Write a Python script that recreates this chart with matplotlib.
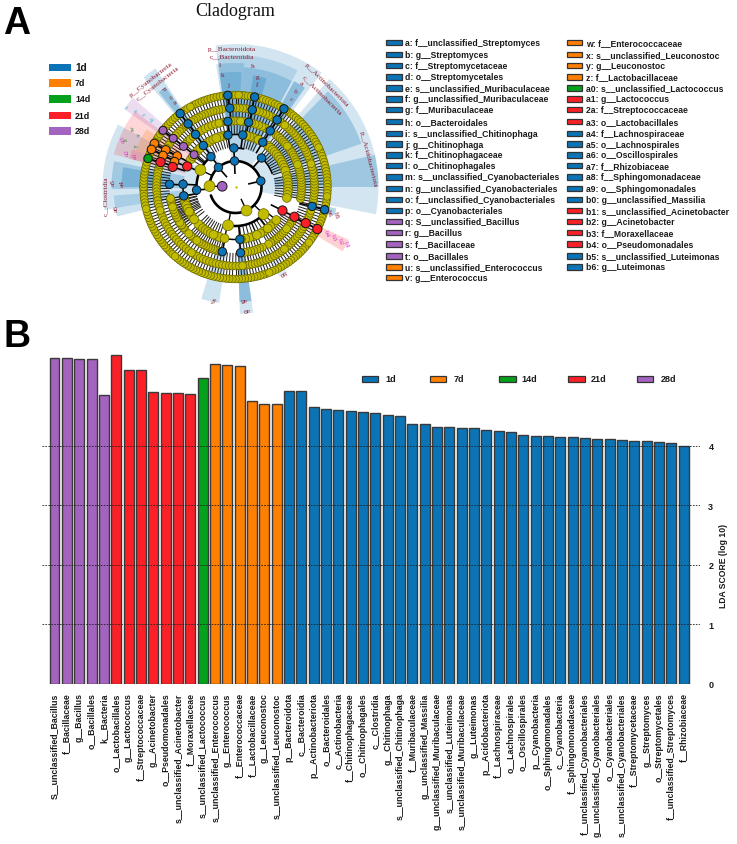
import numpy as np
import matplotlib
matplotlib.use("Agg")
import matplotlib.pyplot as plt
from matplotlib.patches import Rectangle

W, H = 737, 845
plt.rcParams['font.family'] = ['Liberation Sans', 'DejaVu Sans']

GROUPS = ['1d', '7d', '14d', '21d', '28d']
COL = {'1d': '#0a74b6', '7d': '#ff7f00', '14d': '#04a11c', '21d': '#fb2027', '28d': '#a463bf'}
OLIVE = '#c2bc00'

# ---------- panel B data ----------
labels_28d = ['S__unclassified_Bacillus', 'f__Bacillaceae', 'g__Bacillus', 'o__Bacillales', 'k__Bacteria']
values_28d = [5.465, 5.465, 5.45, 5.45, 4.845]
labels_21d = ['o__Lactobacillales', 'g__Lactococcus', 'f__Streptococcaceae', 'g__Acinetobacter',
              'o__Pseudomonadales', 's__unclassified_Acinetobacter', 'f__Moraxellaceae']
values_21d = [5.52, 5.265, 5.265, 4.905, 4.89, 4.88, 4.87]
labels_14d = ['s__unclassified_Lactococcus']
values_14d = [5.13]
labels_7d = ['s__unclassified_Enterococcus', 'g__Enterococcus', 'f__Enterococcaceae',
             'f__Lactobacillaceae', 'g__Leuconostoc', 's__unclassified_Leuconostoc']
values_7d = [5.36, 5.35, 5.34, 4.74, 4.70, 4.69]
labels_1d = ['p__Bacteroidota', 'c__Bacteroidia', 'p__Actinobacteriota', 'o__Bacteroidales', 'c__Actinobacteria',
             'f__Chitinophagaceae', 'o__Chitinophagales', 'c__Clostridia', 'g__Chitinophaga',
             's__unclassified_Chitinophaga', 'f__Muribaculaceae', 'g__unclassified_Massilia',
             'g__unclassified_Muribaculaceae', 's__unclassified_Luteimonas', 's__unclassified_Muribaculaceae',
             'g__Luteimonas', 'p__Acidobacteriota', 'f__Lachnospiraceae', 'o__Lachnospirales', 'o__Oscillospirales',
             'p__Cyanobacteria', 'o__Sphingomonadales', 'c__Cyanobacteria', 'f__Sphingomonadaceae',
             'f__unclassified_Cyanobacteriales', 'g__unclassified_Cyanobacteriales', 'o__Cyanobacteriales',
             's__unclassified_Cyanobacteriales', 'f__Streptomycetaceae', 'g__Streptomyces', 'o__Streptomycetales',
             'f__unclassified_Streptomyces', 'f__Rhizobiaceae']
values_1d = [4.92, 4.91, 4.65, 4.61, 4.59, 4.575, 4.565, 4.55, 4.52, 4.50, 4.37, 4.36, 4.31, 4.31, 4.30, 4.29,
             4.26, 4.24, 4.22, 4.185, 4.16, 4.155, 4.145, 4.14, 4.12, 4.115, 4.105, 4.09, 4.08, 4.07, 4.06, 4.05, 4.00]
y_ticks = [0, 1, 2, 3, 4]

# ---------- panel A legend data ----------
legend_col1 = [('a: f__unclassified_Streptomyces', '1d'), ('b: g__Streptomyces', '1d'), ('c: f__Streptomycetaceae', '1d'),
               ('d: o__Streptomycetales', '1d'), ('e: s__unclassified_Muribaculaceae', '1d'),
               ('f: g__unclassified_Muribaculaceae', '1d'), ('g: f__Muribaculaceae', '1d'), ('h: o__Bacteroidales', '1d'),
               ('i: s__unclassified_Chitinophaga', '1d'), ('j: g__Chitinophaga', '1d'), ('k: f__Chitinophagaceae', '1d'),
               ('l: o__Chitinophagales', '1d'), ('m: s__unclassified_Cyanobacteriales', '1d'),
               ('n: g__unclassified_Cyanobacteriales', '1d'), ('o: f__unclassified_Cyanobacteriales', '1d'),
               ('p: o__Cyanobacteriales', '1d'), ('q: S__unclassified_Bacillus', '28d'), ('r: g__Bacillus', '28d'),
               ('s: f__Bacillaceae', '28d'), ('t: o__Bacillales', '28d'), ('u: s__unclassified_Enterococcus', '7d'),
               ('v: g__Enterococcus', '7d')]
legend_col2 = [('w: f__Enterococcaceae', '7d'), ('x: s__unclassified_Leuconostoc', '7d'), ('y: g__Leuconostoc', '7d'),
               ('z: f__Lactobacillaceae', '7d'), ('a0: s__unclassified_Lactococcus', '14d'), ('a1: g__Lactococcus', '21d'),
               ('2a: f__Streptococcaceae', '21d'), ('a3: o__Lactobacillales', '21d'), ('a4: f__Lachnospiraceae', '1d'),
               ('a5: o__Lachnospirales', '1d'), ('a6: o__Oscillospirales', '1d'), ('a7: f__Rhizobiaceae', '1d'),
               ('a8: f__Sphingomonadaceae', '1d'), ('a9: o__Sphingomonadales', '1d'), ('b0: g__unclassified_Massilia', '1d'),
               ('b1: s__unclassified_Acinetobacter', '21d'), ('b2: g__Acinetobacter', '21d'), ('b3: f__Moraxellaceae', '21d'),
               ('b4: o__Pseudomonadales', '21d'), ('b5: s__unclassified_Luteimonas', '1d'), ('b6: g__Luteimonas', '1d')]
legend_rows = [41, 77, 110, 144, 177, 210, 241, 278, 314, 345, 378, 410, 444, 478, 512, 545, 578, 610, 645, 681, 714, 746]

# ---------- cladogram data ----------
# ring radii (px of the picture), one per taxonomic level
ring_r = {1: 13.3, 2: 26, 3: 39, 4: 52.5, 5: 66, 6: 79, 7: 92}
# biomarker nodes: (angle deg, ring, group)
clade_nodes = [
    (94.8, 7, '1d'), (94.1, 6, '1d'), (96.6, 5, '1d'), (98.3, 4, '1d'), (92.4, 3, '1d'), (92.2, 2, '1d'),
    (78, 7, '1d'), (77.8, 6, '1d'), (78.5, 5, '1d'), (82, 4, '1d'),
    (58.2, 7, '1d'), (58.2, 6, '1d'), (58.3, 5, '1d'), (58.7, 4, '1d'), (48.1, 3, '1d'), (13.2, 2, '1d'),
    (131, 2, '1d'), (129, 3, '1d'), (127.8, 4, '1d'), (127.2, 5, '1d'), (126.9, 6, '1d'), (127, 7, '1d'),
    (177.7, 5, '1d'), (177, 4, '1d'), (189.8, 4, '1d'), (184.4, 3, '1d'),
    (-14.2, 6, '1d'), (-14.3, 7, '1d'),
    (-85.2, 4, '1d'), (-85.6, 5, '1d'), (-101.5, 5, '1d'),
    (177, 1, '28d'), (142, 4, '28d'), (142, 5, '28d'), (142, 6, '28d'), (142, 7, '28d'),
    (152, 5, '7d'), (152, 6, '7d'), (151.8, 7, '7d'), (157.4, 5, '7d'), (156.5, 6, '7d'), (155.9, 7, '7d'),
    (161.9, 7, '14d'),
    (156.8, 4, '21d'), (162.3, 5, '21d'), (161.6, 6, '21d'),
    (-26.6, 4, '21d'), (-26.8, 5, '21d'), (-27.2, 6, '21d'), (-27.2, 7, '21d'),
]
# non-significant nodes drawn singly: (angle, ring)
plain_nodes = [(178, 2), (-65, 2), (154, 3), (-44, 3), (-101, 3), (-39, 4), (-102, 4), (-66, 4), (-52, 4)]
# non-significant clades per ring: (from deg, to deg, number of nodes)
ring_spans = {
    7: [(-180, 180, 185)],
    6: [(100, 190, 42), (190, 280, 38), (-80, -30, 24), (-28, 60, 42), (60, 92, 14)],
    5: [(60, 76, 6), (80, 94, 6), (98, 124, 9), (130, 140, 4), (-10, 52, 28), (-60, -30, 14), (-82, -66, 7),
        (-135, -103, 15), (-170, -140, 14), (190, 215, 11)],
    4: [(64, 78, 5), (101, 122, 7), (132, 148, 5), (18, 52, 11), (-12, 12, 8), (-62, -44, 5), (-84, -70, 4),
        (-135, -108, 9), (-170, -142, 8), (193, 208, 5)],
}
# black arcs joining siblings: (ring, from deg, to deg, line width)
arcs = [(2, -161, 178, 1.9), (3, 135, 190, 1.8), (3, -101, -44, 1.8), (3, 78, 98, 1.3), (4, 75, 98, 1.1), (3, 20, 48, 1.1),
        (4, 172, 190, 1.1), (3, -105, -80, 1.1), (4, -66, -40, 1.1), (4, -102, -85, 1.1)]
# shaded clade sectors: (from deg, to deg, inner px, outer px, group, alpha)
sectors = [
    (53, 98, 26, 143, '1d', .18), (62, 98, 39, 132, '1d', .16), (86, 99, 52, 124, '1d', .2), (87, 98, 66, 115, '1d', .2),
    (62, 86, 52, 120, '1d', .22), (74, 81, 66, 113, '1d', .25), (55, 61, 52, 121, '1d', .35), (-11, 49, 26, 143, '1d', .18),
    (19, 46, 39, 133, '1d', .26), (0, 13, 39, 143, '1d', .26), (124, 130, 26, 143, '1d', .2), (125, 129, 39, 122, '1d', .3),
    (152, 190, 39, 133, '1d', .18), (168, 181, 52, 124, '1d', .24), (170, 180, 66, 114, '1d', .28), (184, 194, 52, 122, '1d', .2),
    (-16, -12, 79, 103, '1d', .3), (-88, -82, 52, 127, '1d', .18), (-88, -82, 66, 115, '1d', .35), (-107, -98, 66, 117, '1d', .2),
    (-64, -59, 79, 100, '1d', .12),
    (143, 165, 52, 126, '21d', .18), (147, 160, 66, 106, '7d', .22), (160, 165, 79, 110, '21d', .18),
    (139, 145, 52, 136, '28d', .22), (-31, -25, 52, 125, '21d', .2),
]
BROWN = '#8c1a2e'
MAG = '#e030d0'
CYAN = '#20c0c8'
GRN = '#2f7d2f'
# clade text: (angle deg, radius px, text, rotation, colour)
clade_text = [
    (91.6, 139, 'p__Bacteroidota', 0, BROWN), (91.7, 131, 'c__Bacteroidia', 0, BROWN),
    (97.3, 123, 'l', 0, BROWN), (96.7, 113, 'k', 0, BROWN), (94, 103, 'j', 0, BROWN),
    (82, 123, 'h', 0, BROWN), (78.5, 113, 'g', 0, BROWN), (78, 105, 'f', 0, BROWN),
    (58, 123, 'a', -35, BROWN), (58, 113, 'b', -35, BROWN), (58, 104, 'c', -35, BROWN),
    (48.4, 138, 'p__Actinobacteriota', -45, BROWN), (47, 127, 'c__Actinobacteria', -45, BROWN),
    (12, 136, 'p__Acidobacteriota', -76, BROWN),
    (128, 137, 'p__Cyanobacteria', 38, BROWN), (126.7, 130, 'c__Cyanobacteria', 38, BROWN),
    (126, 122, 'p', -55, BROWN), (126, 112, 'o', -55, BROWN), (126, 105, 'n', -55, BROWN),
    (144, 136, 't', -50, CYAN), (142.5, 127, 's', -50, CYAN), (141.5, 118, 'r', -50, CYAN), (141, 109, 'q', -50, CYAN),
    (150, 118, 'w', 100, GRN), (151, 110, 'v', 100, GRN), (156, 120, 'z', 100, GRN), (157, 108, 'y', 100, GRN),
    (156.6, 122, 'a3', 90, MAG), (162, 114, 'a2', 90, MAG), (162, 105, 'a1', 90, MAG),
    (183.7, 130, 'c__Clostridia', 90, BROWN), (177.6, 122, 'a5', 90, BROWN), (177.5, 113, 'a4', 90, BROWN),
    (190, 121, 'a6', 90, BROWN),
    (-15, 97, 'b6', -80, BROWN), (-15, 104, 'b5', -80, BROWN),
    (-27, 102, 'b4', -70, MAG), (-27, 110, 'b3', -70, MAG), (-27, 118, 'b2', -70, MAG), (-27, 125, 'b1', -70, MAG),
    (-61, 97, 'b0', 210, BROWN), (-101.6, 113, 'a7', 190, BROWN), (-86, 112, 'a8', 180, BROWN), (-85, 122, 'a9', 180, BROWN),
]

# ---------- layout helpers ----------
fig = plt.figure(figsize=(W / 100, H / 100), dpi=100)


def px_axes(x0, y0, x1, y1, **kw):
    return fig.add_axes([x0 / W, 1 - y1 / H, (x1 - x0) / W, (y1 - y0) / H], **kw)


def ftext(x, y, s, **kw):
    fig.text(x / W, 1 - y / H, s, **kw)


def swatch(x0, x1, yc, h, col, lw=0.9):
    fig.add_artist(Rectangle((x0 / W, 1 - (yc + h / 2) / H), (x1 - x0) / W, h / H, transform=fig.transFigure,
                             facecolor=col, edgecolor='#333333', linewidth=lw))


def size(r_px):
    return (2 * r_px * 0.72) ** 2


# ---------- panel A cladogram ----------
R = 150
cx, cy = 235.5, 188
ax = px_axes(cx - R, cy - R, cx + R, cy + R, projection='polar')
ax.set_ylim(0, R)
ax.axis('off')
ax.patch.set_alpha(0)

for t0, t1, r0, r1, g, a in sectors:
    ax.bar(np.radians((t0 + t1) / 2), r1 - r0, width=np.radians(t1 - t0), bottom=r0,
           color=COL[g], alpha=a, linewidth=0, zorder=1)

plain = []
for ring, spans in ring_spans.items():
    for t0, t1, n in spans:
        for t in np.linspace(t0, t1, n):
            plain.append((t, ring))
plain_t = np.radians([p[0] for p in plain])
plain_ring = np.array([p[1] for p in plain])
plain_r = np.array([ring_r[k] for k in plain_ring])
ax.vlines(plain_t, plain_r - 13, plain_r, colors='#1a1a1a', linewidth=0.7, zorder=2)

for ring, t0, t1, lw in arcs:
    th = np.radians(np.arange(t0, t1 + 1, 1.0))
    ax.plot(th, np.full_like(th, ring_r[ring]), color='black', lw=lw, zorder=3, solid_capstyle='round')

for t, ring in plain_nodes:
    ax.vlines(np.radians(t), ring_r[ring] - 13, ring_r[ring], colors='black', linewidth=1.0, zorder=3)
for t, ring, g in clade_nodes:
    if ring > 1:
        ax.vlines(np.radians(t), ring_r[ring] - 13, ring_r[ring], colors='black', linewidth=1.2, zorder=3)

node_radius = {1: 4.8, 2: 5.4, 3: 5.4, 4: 4.4, 5: 4.0, 6: 3.9, 7: 3.8}
order = np.argsort(plain_ring)[::-1]
ax.scatter(plain_t[order], plain_r[order], s=[size(node_radius[k]) for k in plain_ring[order]],
           c=OLIVE, edgecolors='#6a6500', linewidths=0.5, zorder=4)
ax.scatter(np.radians([p[0] for p in plain_nodes]), [ring_r[p[1]] for p in plain_nodes],
           s=[size(node_radius[p[1]]) for p in plain_nodes], c=OLIVE, edgecolors='#6a6500', linewidths=0.5, zorder=5)
ax.scatter([0], [0], s=size(1.2), c=OLIVE, zorder=5, linewidths=0)
node_r_hi = {'1d': 4.2, '7d': 4.3, '14d': 4.2, '21d': 4.6, '28d': 4.0}
ax.scatter(np.radians([n[0] for n in clade_nodes]), [ring_r[n[1]] for n in clade_nodes],
           s=[size(4.8 if n[1] == 1 else node_r_hi[n[2]]) for n in clade_nodes],
           c=[COL[n[2]] for n in clade_nodes], edgecolors='#151515', linewidths=0.7, zorder=6)

for t, r, s, rot, col in clade_text:
    ax.text(np.radians(t), r, s, rotation=rot, rotation_mode='anchor', ha='center', va='center', color=col,
            fontsize=5.2, family='Liberation Serif', zorder=7)

ftext(235, 11, 'Cladogram', ha='center', va='center', fontsize=13, family='Liberation Serif', color='#111111')
ftext(3, 34, 'A', ha='left', va='baseline', fontsize=27, fontweight='bold', color='black')
ftext(3, 347, 'B', ha='left', va='baseline', fontsize=27, fontweight='bold', color='black')

# small group legend
for g, yc in zip(GROUPS, [68.3, 84, 100, 116.3, 132]):
    swatch(48.7, 71, yc, 7.2, COL[g], lw=0)
    ftext(75, yc, g, ha='left', va='center', fontsize=7.2 if g == '1d' else 6.4, fontweight='bold', color='#111111')

# long legend
for col_items, x0, x1, tx in [(legend_col1, 386, 402.5, 405), (legend_col2, 566.7, 582.3, 585.7)]:
    for (s, g), yz in zip(col_items, legend_rows):
        yc = 30 + yz / 3
        swatch(x0, x1, yc, 5.2, COL[g])
        ftext(tx, yc, s, ha='left', va='center', fontsize=6.25, fontweight='bold', color='#1a1a1a')

# ---------- panel B bars ----------
all_labels = labels_28d + labels_21d + labels_14d + labels_7d + labels_1d
all_values = values_28d + values_21d + values_14d + values_7d + values_1d
all_groups = ['28d'] * len(labels_28d) + ['21d'] * len(labels_21d) + ['14d'] * len(labels_14d) + \
             ['7d'] * len(labels_7d) + ['1d'] * len(labels_1d)

axb = px_axes(42, 350, 700, 685)
xs = np.arange(len(all_labels))
axb.bar(xs, all_values, width=0.81, color=[COL[g] for g in all_groups], edgecolor='#3a3a3a', linewidth=1.0, zorder=2)
axb.set_xlim(-1.013, 52.31)
axb.set_ylim(0, 5.62)
for s in axb.spines.values():
    s.set_visible(False)
axb.set_xticks(xs)
axb.set_xticklabels(all_labels, rotation=90, ha='center', va='top', fontsize=6.3, fontweight='bold', color='#1a1a1a')
axb.tick_params(axis='x', length=0, pad=6)
axb.yaxis.tick_right()
axb.set_yticks(y_ticks)
axb.set_yticklabels([str(v) for v in y_ticks], fontsize=6.5, fontweight='bold', color='#1a1a1a')
axb.tick_params(axis='y', length=0, pad=6)
for v in y_ticks[1:]:
    axb.axhline(v, color='#222222', lw=0.6, ls=(0, (2, 1.5)), zorder=3)
axb.axhline(0, color='#999999', lw=0.6, zorder=1)
ftext(723, 566, 'LDA SCORE (log 10)', rotation=90, ha='center', va='center', fontsize=6.2, fontweight='bold', color='#1a1a1a')

for g, x0, tx in zip(GROUPS, [361.7, 430, 499, 568, 636.7], [385.7, 453.7, 521, 591, 660.7]):
    swatch(x0, x0 + 16.5, 379.7, 5.6, COL[g])
    ftext(tx, 379.7, g, ha='left', va='center', fontsize=6.5, fontweight='bold', color='#1a1a1a')

fig.savefig('out.png', dpi=100, facecolor='white')
